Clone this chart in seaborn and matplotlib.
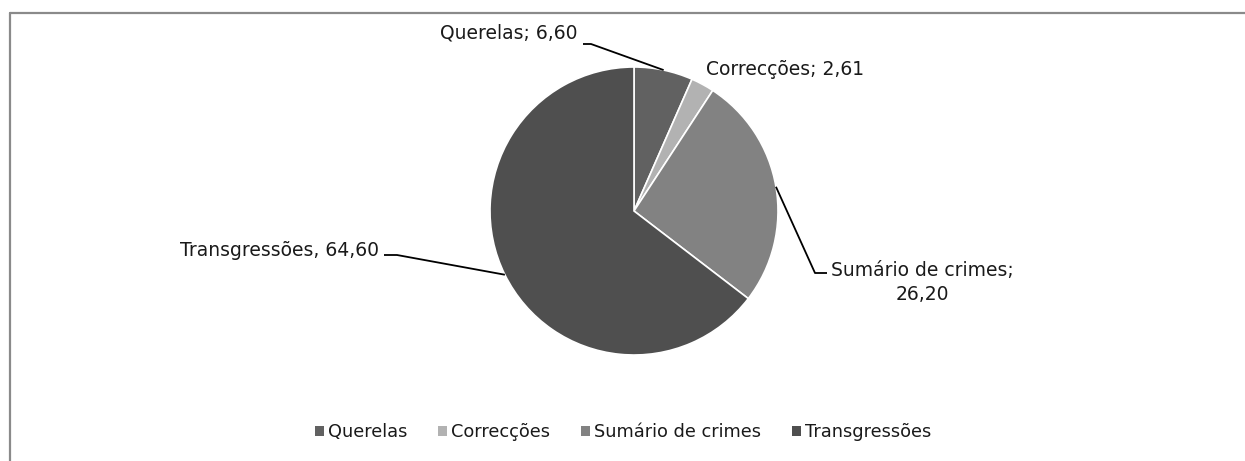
import numpy as np
import matplotlib
matplotlib.use("Agg")
import matplotlib.pyplot as plt
from matplotlib.lines import Line2D
from matplotlib.patches import Patch
import seaborn as sns

categories = ["Querelas", "Correcções", "Sumário de crimes", "Transgressões"]
values = [6.60, 2.61, 26.20, 64.60]
value_labels = ["6,60", "2,61", "26,20", "64,60"]
grays = ["#616161", "#b2b2b2", "#828282", "#4f4f4f"]

sns.set_theme(style="white")
plt.rcParams["font.family"] = ["DejaVu Sans"]

W, H = 1245, 461
FS = 13.5
TXT = "#1a1a1a"


def Y(y):
    # pixel row (from top) to data y
    return H - y


fig = plt.figure(figsize=(W / 100, H / 100), dpi=100)
ax = fig.add_axes([0, 0, 1, 1])

cx, cy, r = 634, Y(211), 144
palette = sns.color_palette(grays)
wedges, _ = ax.pie(values, colors=palette, startangle=90, counterclock=False,
                   center=(cx, cy), radius=r,
                   wedgeprops=dict(edgecolor="white", linewidth=1.2))

ax.set_xlim(0, W)
ax.set_ylim(0, H)
ax.set_aspect("equal")
ax.axis("off")


def edge_point(w):
    a = np.deg2rad((w.theta1 + w.theta2) / 2)
    return cx + r * np.cos(a), cy + r * np.sin(a)


def leader(w, pts):
    x0, y0 = edge_point(w)
    xs = [x0] + [p[0] for p in pts]
    ys = [y0] + [Y(p[1]) for p in pts]
    ax.plot(xs, ys, color="black", lw=1.3, solid_capstyle="butt")


# Querelas
leader(wedges[0], [(591, 44), (583, 44)])
ax.text(578, Y(39), f"{categories[0]}; {value_labels[0]}", ha="right",
        va="baseline", fontsize=FS, color=TXT)

# Correcções (no leader line)
ax.text(706, Y(75), f"{categories[1]}; {value_labels[1]}", ha="left",
        va="baseline", fontsize=FS, color=TXT)

# Sumário de crimes (baseline of the last line)
leader(wedges[2], [(815, 273), (827, 273)])
ax.text(922, Y(300), f"{categories[2]};\n{value_labels[2]}", ha="center",
        va="baseline", multialignment="center", linespacing=1.33,
        fontsize=FS, color=TXT)

# Transgressões
leader(wedges[3], [(397, 255), (384, 255)])
ax.text(379, Y(256), f"{categories[3]}, {value_labels[3]}", ha="right",
        va="baseline", fontsize=FS, color=TXT)

handles = [Patch(facecolor=c, edgecolor="none") for c in palette]
fig.legend(handles, categories, loc="center", bbox_to_anchor=(623 / W, 1 - 432 / H),
           ncol=4, frameon=False, fontsize=12.8, handlelength=0.5,
           handleheight=0.5, handletextpad=0.22, columnspacing=1.75,
           labelcolor=TXT)

# chart frame (top and left edges visible)
border = "#8a8a8a"
fig.add_artist(Line2D([10 / W, 1], [1 - 13 / H, 1 - 13 / H],
                      transform=fig.transFigure, color=border, lw=1.6))
fig.add_artist(Line2D([10 / W, 10 / W], [1 - 13 / H, 0],
                      transform=fig.transFigure, color=border, lw=1.6))

fig.savefig("out.png", dpi=100, facecolor="white")
